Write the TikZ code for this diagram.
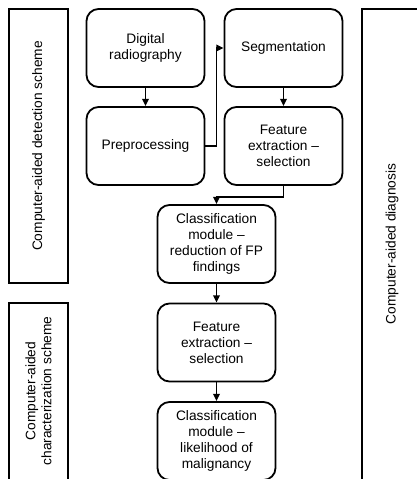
\documentclass[tikz,border=0pt]{standalone}
\usepackage{fontspec}
\setmainfont{Liberation Sans}
\usetikzlibrary{arrows.meta}
\begin{document}
\begin{tikzpicture}[x=0.75pt,y=-0.75pt,
  font=\fontsize{10.3}{12}\selectfont,
  stepbox/.style={draw,line width=1.35pt,rounded corners=9pt,align=center,
    minimum width=88.5pt,minimum height=58.5pt,inner sep=2pt},
  frame/.style={draw,line width=1pt},
  arr/.style={line width=1.2pt,-{Triangle[length=5.5pt,width=5pt]}}]
\useasboundingbox (0,0) rectangle (417,479);
% scheme frames
\draw[frame] (9,9) rectangle (68,283);
\node[rotate=90,align=center] (det) at (38.5,146) {Computer-aided detection scheme};
\draw[frame] (9,303) rectangle (68,485);
\node[rotate=90,align=center] (chr) at (38.5,391) {Computer-aided\\characterization scheme};
\draw[frame] (362,9) rectangle (425,485);
\node[rotate=90,align=center] (cad) at (392,244) {Computer-aided diagnosis};
% processing steps
\node[stepbox] (dig) at (145.5,48) {Digital\\radiography};
\node[stepbox] (pre) at (145.5,146) {Preprocessing};
\node[stepbox] (seg) at (283.5,48) {Segmentation};
\node[stepbox] (fe1) at (283.5,146) {Feature\\extraction --\\selection};
\node[stepbox] (cl1) at (216.5,244) {Classification\\module --\\reduction of FP\\findings};
\node[stepbox] (fe2) at (216.5,342.5) {Feature\\extraction --\\selection};
\node[stepbox] (cl2) at (216.5,441) {Classification\\module --\\likelihood of\\malignancy};
% connectors
\draw[arr] (dig) -- (pre);
\draw[arr] (pre.east) -- ++(11,0) |- (seg.west);
\draw[arr] (seg) -- (fe1);
\draw[arr] (fe1.south) -- ++(0,11) -| (cl1.north);
\draw[arr] (cl1) -- (fe2);
\draw[arr] (fe2) -- (cl2);
\end{tikzpicture}
\end{document}
